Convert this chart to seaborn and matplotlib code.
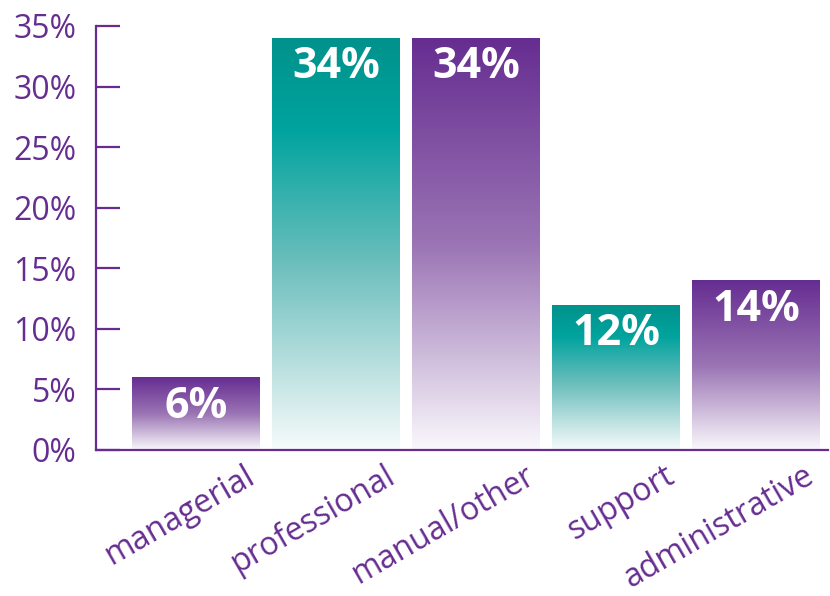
import numpy as np
import pandas as pd
import matplotlib.pyplot as plt
import matplotlib.transforms as mtransforms
from matplotlib.colors import LinearSegmentedColormap
import seaborn as sns

categories = ['managerial', 'professional', 'manual/other', 'support', 'administrative']
shares = [6, 34, 34, 12, 14]
bar_colors = ['purple', 'teal', 'purple', 'teal', 'purple']

PURPLE = '#662d91'

# gradient stops from bar top (0) to bar bottom (1)
gradients = {
    'purple': LinearSegmentedColormap.from_list(
        'pg', [(0, '#662d91'), (0.5, '#9a74b4'), (1, '#faf8fc')]),
    'teal': LinearSegmentedColormap.from_list(
        'tg', [(0, '#00928b'), (0.22, '#00a39e'), (0.55, '#6dbfbd'), (1, '#f7fbfb')]),
}

df = pd.DataFrame({'category': categories, 'share': shares})

sns.set_style('white')
plt.rcParams['font.family'] = ['Open Sans', 'DejaVu Sans']

fig = plt.figure(figsize=(8.3, 5.96), dpi=100)
ax = fig.add_axes([96 / 830, 146 / 596, 732 / 830, 424 / 596])

sns.barplot(data=df, x='category', y='share', color='white', width=0.914,
            linewidth=0, ax=ax)

ax.set_xlim(-0.714, 4.514)
ax.set_ylim(0, 35)

# fill each bar with a vertical gradient clipped to its patch
grad = np.linspace(0, 1, 256).reshape(-1, 1)
for patch, kind in zip(ax.patches, bar_colors):
    x0 = patch.get_x()
    w = patch.get_width()
    h = patch.get_height()
    im = ax.imshow(grad, cmap=gradients[kind], aspect='auto',
                   extent=[x0, x0 + w, 0, h], origin='upper', zorder=2)
    im.set_clip_path(patch)

for i, v in enumerate(shares):
    ax.annotate(f'{v}%', xy=(i, v), xytext=(0, -29), textcoords='offset points',
                ha='center', va='baseline', color='white', fontsize=31,
                fontweight='bold', zorder=5)

ax.set_yticks(range(0, 36, 5))
ax.set_yticklabels([f'{t}%' for t in range(0, 36, 5)])
ax.tick_params(axis='y', direction='in', length=17, width=1.6, color=PURPLE,
               labelcolor=PURPLE, labelsize=23, pad=14, left=True)
ax.tick_params(axis='x', length=0, labelcolor=PURPLE, labelsize=23, pad=17)

offset = mtransforms.ScaledTranslation(0.56, 0, fig.dpi_scale_trans)
for lab in ax.get_xticklabels():
    lab.set_rotation(30)
    lab.set_ha('right')
    lab.set_va('center')
    lab.set_rotation_mode('anchor')
    lab.set_transform(lab.get_transform() + offset)

ax.set_xlabel('')
ax.set_ylabel('')
for side in ['top', 'right']:
    ax.spines[side].set_visible(False)
for side in ['left', 'bottom']:
    ax.spines[side].set_color(PURPLE)
    ax.spines[side].set_linewidth(1.6)

fig.savefig('out.png', dpi=100)
